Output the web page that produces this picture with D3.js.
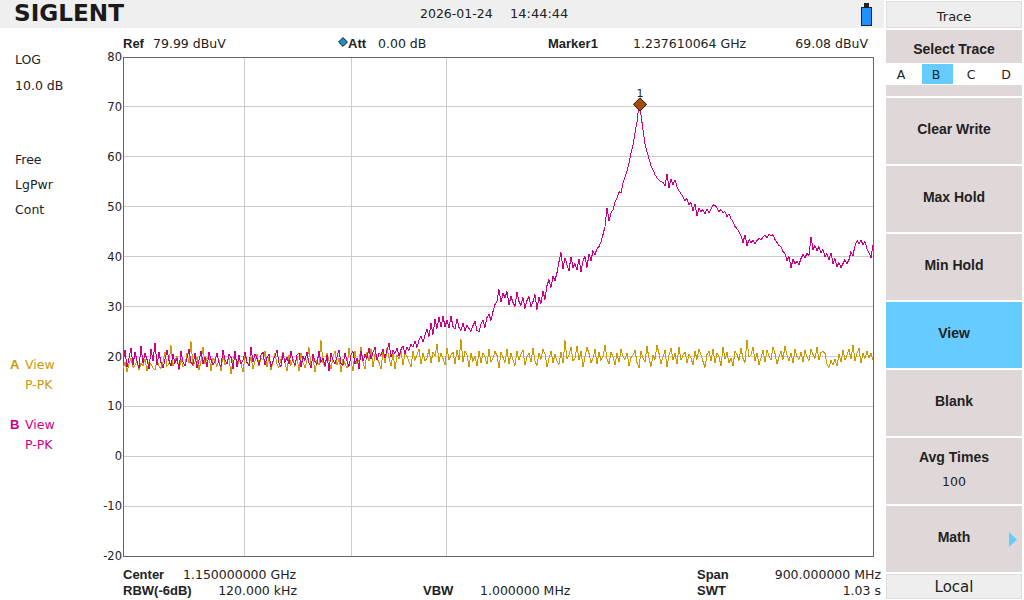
<!DOCTYPE html>
<html>
<head>
<meta charset="utf-8">
<title>SIGLENT trace</title>
<script src="https://cdn.jsdelivr.net/npm/d3@7"></script>
<style>
  html, body { margin: 0; padding: 0; background: #fff; }
  svg { display: block; }
  text { font-family: "DejaVu Sans", sans-serif; font-size: 12.5px; fill: #222; }
  .b { font-family: "Liberation Sans", sans-serif; font-weight: 700; font-size: 13px; }
</style>
</head>
<body>
<svg id="chart"></svg>
<script>
// sweep limits, GHz (center 1.15 GHz on a log axis, points are evenly spaced on screen)
const sweepStart = 0.7;
const sweepStop = 1.6;
const markerFreq = 1.23761;

const dbTicks = [80, 70, 60, 50, 40, 30, 20, 10, 0, -10, -20];
const freqGrid = [0.8, 0.9, 1.0];

// Trace A, dBuV
const traceA = [
  17.4,18.8,16.8,18.4,19.6,17.8,18.2,19.1,17.2,18.6,18.1,19.5,17.1,18.9,18.4,17.7,17.3,19.3,18.0,17.6,
  18.9,20.9,18.0,18.6,22.2,18.1,19.2,20.1,17.2,19.5,17.9,18.3,20.7,18.7,23.0,18.0,18.8,19.9,17.3,19.0,
  21.9,18.4,19.6,20.2,17.1,19.6,19.1,18.0,19.3,17.0,20.5,18.3,18.9,19.8,16.5,19.4,20.9,17.9,19.2,18.5,
  16.9,20.1,18.8,18.3,19.9,17.4,19.0,20.4,18.1,19.6,19.3,21.0,17.9,19.8,17.2,18.9,20.6,18.4,17.8,19.5,
  20.8,18.6,17.0,20.2,18.2,19.4,18.0,20.0,17.1,20.7,18.7,17.7,19.3,21.8,18.1,19.9,16.8,19.2,18.3,23.2,
  18.8,17.9,20.6,19.2,17.4,20.0,21.0,18.2,19.7,16.8,19.4,18.6,17.6,21.6,19.0,17.1,21.0,18.4,19.2,21.8,
  18.8,17.5,20.8,19.1,21.4,17.8,20.4,19.6,18.8,17.5,21.0,18.6,21.6,19.8,18.1,20.6,17.4,20.2,19.5,21.0,
  18.3,20.7,20.0,18.9,17.9,21.1,19.2,20.3,21.4,18.4,20.6,19.1,19.7,21.4,18.7,20.8,20.1,22.4,18.9,20.7,
  19.6,18.3,21.6,19.3,20.2,20.9,18.5,21.3,19.2,23.4,18.9,21.0,20.3,17.9,20.6,19.0,20.1,18.0,21.1,18.6,
  20.7,19.9,18.4,21.4,18.9,19.6,21.0,20.2,17.7,20.8,19.8,18.8,21.4,18.5,20.6,19.3,18.2,21.0,19.2,20.4,
  21.3,18.3,19.9,20.6,18.9,21.6,19.0,18.2,20.7,19.4,21.4,20.5,17.9,19.6,21.0,18.7,20.4,19.1,18.4,20.8,
  18.6,23.2,19.5,20.3,21.8,19.1,19.7,22.0,19.3,21.0,17.8,20.1,21.8,20.6,18.7,19.6,21.4,18.4,20.8,19.2,
  20.0,22.2,19.5,18.5,20.9,19.9,18.3,20.6,18.9,21.4,20.1,19.4,20.7,18.1,19.8,20.3,21.2,18.8,17.7,21.0,
  19.6,18.9,22.0,19.6,18.0,20.2,19.4,22.2,20.6,18.5,19.9,21.2,17.8,20.3,21.6,19.3,20.6,18.5,21.8,19.2,
  20.2,20.9,18.7,20.4,19.7,18.3,21.0,19.4,21.5,20.3,19.0,17.8,20.4,21.0,19.1,21.4,18.7,20.7,19.9,18.1,
  21.8,19.5,20.8,18.6,19.7,18.0,21.1,20.4,19.2,21.6,19.6,18.8,23.2,19.9,20.3,21.8,19.1,20.6,18.3,19.7,
  21.2,18.9,21.3,20.1,19.3,21.9,20.6,18.5,19.8,21.0,19.4,22.1,20.2,19.1,20.7,18.7,21.4,20.0,19.4,20.8,
  18.9,21.2,19.9,19.2,21.5,20.4,19.6,21.8,19.2,20.8,21.0,20.6,18.5,17.8,19.2,18.3,19.4,18.1,20.4,18.9,
  21.3,19.2,20.2,21.4,19.4,22.2,19.1,20.6,21.6,18.6,20.6,19.6,21.0,19.6,20.7,19.2
];

// Trace B, dBuV
const traceB = [
  18.6,21.2,17.8,19.6,21.7,18.2,20.9,19.1,17.6,22.0,18.7,20.6,19.4,17.5,21.4,19.0,22.7,18.3,20.8,18.8,
  17.6,19.4,21.3,19.2,18.0,20.5,18.6,19.7,17.4,21.0,18.9,18.1,19.6,21.4,18.8,18.4,20.7,17.7,19.2,21.1,
  18.5,19.9,17.8,20.8,19.4,18.2,19.0,20.6,18.7,18.0,21.3,19.2,18.5,20.4,19.8,17.5,21.0,17.9,20.3,18.4,
  19.3,20.8,18.8,18.1,21.8,18.9,20.5,19.6,18.3,20.2,20.9,18.2,19.8,20.4,17.8,19.1,20.1,21.2,18.6,18.0,
  20.7,18.8,19.9,18.5,21.0,19.1,18.3,20.3,20.6,17.9,20.0,19.2,20.8,18.7,17.7,20.4,19.0,18.4,21.1,18.8,
  19.7,18.1,20.2,17.0,20.7,19.2,18.5,19.9,21.3,18.6,18.2,20.6,19.1,18.0,20.3,21.0,18.4,19.7,17.5,21.1,
  19.0,20.4,19.6,21.6,19.4,20.8,21.9,19.2,20.7,20.2,21.5,19.6,21.2,22.6,19.8,21.3,20.6,21.7,20.0,21.4,
  22.1,20.5,21.9,21.2,22.4,21.9,23.1,21.8,23.3,24.0,22.9,24.2,25.4,24.0,26.6,24.4,27.4,25.6,
  27.9,25.9,28.0,26.0,27.2,25.7,28.0,26.0,25.5,27.5,25.8,25.2,26.7,25.1,26.3,25.6,25.0,26.2,
  27.0,25.2,24.9,26.5,27.2,25.8,27.8,28.4,27.2,29.0,30.4,31.0,33.4,30.9,32.6,31.8,33.0,30.4,
  32.0,30.8,30.0,32.8,31.0,30.2,31.8,29.6,31.2,32.0,29.9,31.0,32.4,29.4,31.8,30.6,33.0,31.4,34.2,35.4,
  33.8,36.0,35.2,36.8,39.0,40.8,37.6,39.8,38.4,37.2,40.0,37.8,38.6,37.4,39.6,37.0,39.2,40.0,37.8,40.6,
  39.2,41.2,40.4,41.6,42.0,43.0,44.4,46.0,49.8,47.2,48.8,49.4,51.0,51.8,53.0,52.8,54.8,56.0,57.2,58.8,
  60.8,62.4,64.8,67.0,70.5,68.4,65.4,62.6,61.0,59.6,58.2,57.4,56.4,55.8,55.4,55.0,54.9,54.2,56.6,53.8,
  55.6,54.4,55.4,54.0,53.2,52.6,52.0,51.2,51.6,50.4,50.8,49.2,50.6,48.2,49.8,49.0,49.4,48.6,49.6,48.8,
  49.6,50.4,50.2,49.8,49.0,49.4,48.8,49.0,48.0,48.6,47.6,47.0,46.0,45.6,45.0,44.2,42.8,44.4,42.2,43.4,
  42.8,43.2,42.6,43.2,43.6,43.4,43.9,44.3,43.8,44.5,44.1,44.4,43.4,42.8,42.2,42.0,41.0,
  40.6,39.2,40.0,37.8,39.4,38.6,39.0,38.4,39.6,40.4,39.8,40.6,40.2,44.0,41.4,42.2,41.2,42.0,40.8,41.4,
  40.0,40.6,39.4,40.8,38.6,39.6,38.0,38.8,37.8,38.6,39.4,38.6,39.4,41.0,40.2,42.2,43.2,42.6,43.3,42.4,
  43.0,41.6,40.8,39.8,42.4
];

const softkeys = ['Clear Write', 'Max Hold', 'Min Hold', 'View', 'Blank', 'Avg Times', 'Math'];
const traceLetters = ['A', 'B', 'C', 'D'];
const leftLabels = ['LOG', '10.0 dB', 'Free', 'LgPwr', 'Cont'];

const W = 1024, H = 600;
const PLOT = { left: 123, right: 873, top: 57, bottom: 556 };
const COL_A = '#cc9900', COL_B = '#cc0088', KEY = '#e0d8d8', SEL = '#66ccff';

const svg = d3.select('#chart').attr('width', W).attr('height', H).attr('viewBox', `0 0 ${W} ${H}`);

function label(x, y, str, opts = {}) {
    return svg.append('text')
        .attr('x', x).attr('y', y)
        .attr('text-anchor', opts.anchor || 'start')
        .attr('dominant-baseline', 'central')
        .attr('class', opts.bold ? 'b' : null)
        .style('fill', opts.color || null)
        .style('font-size', opts.size || null)
        .text(str);
}

// ── Scales ──────────────────────────────────────────────────────────────────
const xScale = d3.scaleLog().domain([sweepStart, sweepStop]).range([PLOT.left, PLOT.right]);
const yScale = d3.scaleLinear().domain([-20, 80]).range([PLOT.bottom, PLOT.top]);

// sweep point i of n -> frequency, points sit evenly on the log axis
const freqAt = (i, n) => sweepStart * Math.pow(sweepStop / sweepStart, i / (n - 1));

// ── Top bar ─────────────────────────────────────────────────────────────────
svg.append('rect').attr('x', 0).attr('y', 0).attr('width', 884).attr('height', 28).attr('fill', '#efefef');
svg.append('text').attr('x', 14).attr('y', 21)
    .attr('textLength', 110).attr('lengthAdjust', 'spacingAndGlyphs')
    .style('font-weight', 700).style('font-size', '23px').style('fill', '#1a1a1a')
    .text('SIGLENT');
label(420, 13, '2026-01-24');
label(510, 13, '14:44:44', { size: '13px' });

// battery
svg.append('rect').attr('x', 864).attr('y', 3).attr('width', 5).attr('height', 4).attr('fill', '#222');
svg.append('rect').attr('x', 861.5).attr('y', 7.5).attr('width', 10).attr('height', 18).attr('fill', '#1e90ff').attr('stroke', '#222');

// ── Readouts above the plot ─────────────────────────────────────────────────
label(123, 43, 'Ref', { bold: true });
label(153, 43, '79.99 dBuV');
svg.append('path').attr('d', d3.symbol(d3.symbolDiamond2, 50)).attr('transform', 'translate(343,42)')
    .attr('fill', '#1e90d0').attr('stroke', '#111');
label(348, 43, 'Att', { bold: true });
label(378, 43, '0.00 dB');
label(548, 43, 'Marker1', { bold: true });
label(633, 43, '1.237610064 GHz');
label(868, 43, '69.08 dBuV', { anchor: 'end' });

// ── Left column ─────────────────────────────────────────────────────────────
[59, 85, 159, 184, 209].forEach((y, i) => label(15, y, leftLabels[i]));
label(10, 364, 'A', { bold: true, color: COL_A });
label(25, 364, 'View', { color: COL_A });
label(25, 384, 'P-PK', { color: COL_A });
label(10, 424, 'B', { bold: true, color: COL_B });
label(25, 424, 'View', { color: COL_B });
label(25, 444, 'P-PK', { color: COL_B });

// ── Grid and axes ───────────────────────────────────────────────────────────
const grid = svg.append('g').attr('shape-rendering', 'crispEdges').attr('stroke', '#cccccc');
grid.selectAll('.h').data(dbTicks).join('line').attr('class', 'h')
    .attr('x1', PLOT.left).attr('x2', PLOT.right)
    .attr('y1', d => yScale(d)).attr('y2', d => yScale(d));
grid.selectAll('.v').data(freqGrid).join('line').attr('class', 'v')
    .attr('x1', d => xScale(d)).attr('x2', d => xScale(d))
    .attr('y1', PLOT.top).attr('y2', PLOT.bottom);

const yAxis = svg.append('g').attr('transform', `translate(${PLOT.left},0)`)
    .call(d3.axisLeft(yScale).tickValues(dbTicks).tickSize(0).tickPadding(1).tickFormat(String));
yAxis.select('.domain').remove();
yAxis.selectAll('text').style('font-size', '11.5px').style('font-family', '"DejaVu Sans", sans-serif');

svg.append('rect')
    .attr('x', PLOT.left).attr('y', PLOT.top)
    .attr('width', PLOT.right - PLOT.left).attr('height', PLOT.bottom - PLOT.top)
    .attr('fill', 'none').attr('stroke', '#666').attr('shape-rendering', 'crispEdges');

// ── Traces ──────────────────────────────────────────────────────────────────
const lineFor = n => d3.line().x((d, i) => xScale(freqAt(i, n))).y(d => yScale(d));
svg.append('path').datum(traceA).attr('d', lineFor(traceA.length))
    .attr('fill', 'none').attr('stroke', COL_A).attr('stroke-width', 1).attr('shape-rendering', 'crispEdges');
svg.append('path').datum(traceB).attr('d', lineFor(traceB.length))
    .attr('fill', 'none').attr('stroke', COL_B).attr('stroke-width', 1).attr('shape-rendering', 'crispEdges');

// ── Marker ──────────────────────────────────────────────────────────────────
const mx = xScale(markerFreq), my = yScale(d3.max(traceB));
svg.append('path').attr('d', d3.symbol(d3.symbolDiamond2, 110))
    .attr('transform', `translate(${mx},${my})`)
    .attr('fill', '#a84a08').attr('stroke', '#1a1a1a').attr('stroke-width', 1);
label(mx, my - 11, '1', { anchor: 'middle', size: '11px' });

// ── Readouts below the plot ─────────────────────────────────────────────────
label(123, 574, 'Center', { bold: true });
label(183, 574, '1.150000000 GHz');
label(123, 590, 'RBW(-6dB)', { bold: true });
label(297, 590, '120.000 kHz', { anchor: 'end' });
label(423, 590, 'VBW', { bold: true });
label(480, 590, '1.000000 MHz');
label(697, 574, 'Span', { bold: true });
label(881, 574, '900.000000 MHz', { anchor: 'end' });
label(697, 590, 'SWT', { bold: true });
label(881, 590, '1.03 s', { anchor: 'end' });

// ── Softkey panel ───────────────────────────────────────────────────────────
svg.append('rect').attr('x', 886.5).attr('y', 1.5).attr('width', 135).attr('height', 26)
    .attr('fill', '#eeeeee').attr('stroke', '#dddddd');
label(954, 16, 'Trace', { anchor: 'middle', size: '13px' });

svg.append('rect').attr('x', 886).attr('y', 30).attr('width', 136).attr('height', 66).attr('fill', KEY);
label(954, 49, 'Select Trace', { anchor: 'middle', bold: true, size: '14px' });
svg.append('rect').attr('x', 886).attr('y', 63).attr('width', 136).attr('height', 22).attr('fill', '#ffffff');
svg.append('rect').attr('x', 922).attr('y', 64).attr('width', 31).attr('height', 20).attr('fill', SEL);
[901, 936, 971, 1006].forEach((x, i) => label(x, 74, traceLetters[i], { anchor: 'middle' }));

softkeys.forEach((name, i) => {
    const y = 98 + i * 68;
    svg.append('rect').attr('x', 886).attr('y', y).attr('width', 136).attr('height', 66)
        .attr('fill', name === 'View' ? SEL : KEY);
    label(954, name === 'Avg Times' ? y + 19 : y + 31, name, { anchor: 'middle', bold: true, size: '14px' });
});
label(954, 481, '100', { anchor: 'middle' });
svg.append('path').attr('d', 'M1009,532 L1017,539.5 L1009,547 Z').attr('fill', SEL);

svg.append('rect').attr('x', 886.5).attr('y', 574.5).attr('width', 135).attr('height', 24)
    .attr('fill', '#eeeeee').attr('stroke', '#dddddd');
label(954, 587, 'Local', { anchor: 'middle', size: '15px' });
</script>
</body>
</html>
